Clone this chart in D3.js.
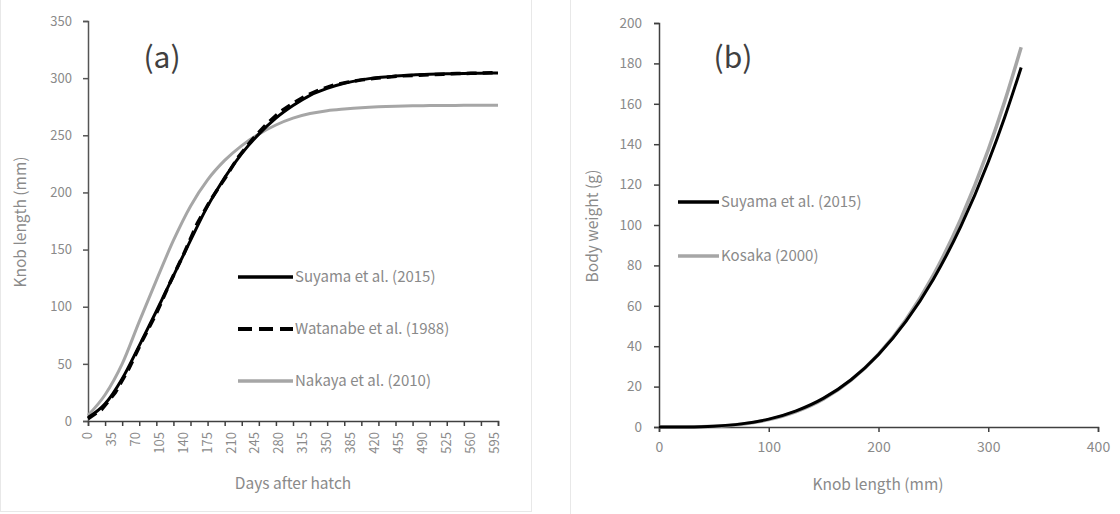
<!DOCTYPE html>
<html><head><meta charset="utf-8">
<script src="https://cdn.jsdelivr.net/npm/d3@7"></script>
<style>
html,body{margin:0;padding:0;background:#fff;}
text{font-family:"Noto Sans CJK JP","Noto Sans",sans-serif;}
</style></head>
<body><svg id="c" width="1120" height="514"></svg>
<script>
// ---- Panel (a) data ----
const daysA = [0,25,50,75,100,125,150,175,200,225,250,275,300,325,350,375,400,425,450,475,500,525,550,575,600];
const suyamaA = [3,15,37,66,96,127,158,188,213,234,251,265,276,285,291,295.5,298.5,300.5,301.8,302.8,303.4,303.8,304.1,304.3,304.5];
const nakayaA = [5,23,50,87,123,158,188,211,228,241,251,259,265,269,271.5,273,274.2,275,275.5,275.8,276,276.1,276.2,276.3,276.3];
const watanabeDays = [0,20,40,60,80,100,120,140,160,180,200,220,240,260,280,300,320,340,360,380,400,420,440,460,480,500,520,540,560,580,600];
const watanabeA = [2,10,25,46,71,94,121,146,173,194,212,231,246,259,270,278,285,290,294,296.5,298.5,300,301,302,302.5,303,303.5,304,304.2,304.5,305];
const xTickMarksA = [0,25,50,75,100,125,150,175,200,225,250,275,300,325,350,375,400,425,450,475,500,525,550,575,600];
const xLabelsA = [0,35,70,105,140,175,210,245,280,315,350,385,420,455,490,525,560,595];
const yTicksA = [0,50,100,150,200,250,300,350];
const seriesNamesA = ["Suyama et al. (2015)","Watanabe et al. (1988)","Nakaya et al. (2010)"];

// ---- Panel (b) data ----
const knobB = [0,25,50,75,100,125,150,175,200,225,250,275,300,315,330];
const suyamaB = [0,0.05,0.42,1.55,3.9,8.0,14.3,23.4,35.9,52.3,73.2,99.3,131.2,153.4,178];
const kosakaB = [0,0.04,0.37,1.41,3.66,7.64,13.9,23.2,36.0,53.1,75.2,103.0,137.2,161.2,188];
const xTicksB = [0,100,200,300,400];
const yTicksB = [0,20,40,60,80,100,120,140,160,180,200];
const seriesNamesB = ["Suyama et al. (2015)","Kosaka (2000)"];

const svg = d3.select("#c");
const labelColor = "#8a8a8a", axisColor = "#404040", gray = "#a6a6a6";

// faint panel frames
svg.append("rect").attr("x",0.5).attr("y",-2).attr("width",531).attr("height",513.5)
  .attr("fill","none").attr("stroke","#e8e8e8");
svg.append("rect").attr("x",570.5).attr("y",-2).attr("width",552).attr("height",520)
  .attr("fill","none").attr("stroke","#e8e8e8");

// ===== Panel (a) =====
const xA = d3.scaleLinear().domain([0,600]).range([88,498]);
const yA = d3.scaleLinear().domain([0,350]).range([421,21]);
const gA = svg.append("g");

const yAxA = gA.append("g").attr("transform","translate(88,0)")
  .call(d3.axisLeft(yA).tickValues(yTicksA).tickSize(5).tickPadding(11));
yAxA.select(".domain").attr("stroke","#555").attr("stroke-width",1.5);
yAxA.selectAll(".tick line").attr("stroke","#555").attr("stroke-width",1.5);
yAxA.selectAll("text").attr("fill",labelColor).attr("font-size",13);

const xAxA = gA.append("g").attr("transform","translate(0,421)")
  .call(d3.axisBottom(xA).tickValues(xTickMarksA).tickSize(5).tickFormat(""));
xAxA.select(".domain").attr("stroke",axisColor).attr("stroke-width",1.5);
xAxA.selectAll(".tick line").attr("stroke",axisColor).attr("stroke-width",1.5);
gA.append("g").selectAll("text").data(xLabelsA).join("text")
  .attr("transform",d=>`translate(${xA(d)+4},432) rotate(-90)`)
  .attr("text-anchor","end").attr("fill",labelColor).attr("font-size",13)
  .text(d=>d);

gA.append("text").attr("x",293).attr("y",489).attr("text-anchor","middle")
  .attr("fill",labelColor).attr("font-size",15.5).text("Days after hatch");
gA.append("text").attr("transform","translate(26,222) rotate(-90)").attr("text-anchor","middle")
  .attr("fill",labelColor).attr("font-size",15.5).text("Knob length (mm)");
gA.append("text").attr("x",162).attr("y",68).attr("text-anchor","middle")
  .attr("fill","#404040").attr("font-size",30).text("(a)");

const lineA = d3.line().x(d=>xA(d[0])).y(d=>yA(d[1])).curve(d3.curveMonotoneX);
gA.append("path").datum(daysA.map((d,i)=>[d,nakayaA[i]])).attr("d",lineA)
  .attr("fill","none").attr("stroke",gray).attr("stroke-width",3);
gA.append("path").datum(daysA.map((d,i)=>[d,suyamaA[i]])).attr("d",lineA)
  .attr("fill","none").attr("stroke","#000").attr("stroke-width",3);
gA.append("path").datum(watanabeDays.map((d,i)=>[d,watanabeA[i]])).attr("d",d3.line().x(d=>xA(d[0])).y(d=>yA(d[1])))
  .attr("fill","none").attr("stroke","#000").attr("stroke-width",3.5).attr("stroke-dasharray","10,6");

const legA = gA.append("g");
const legStylesA = [{c:"#000",w:3.5,dash:null},{c:"#000",w:4,dash:"14,7"},{c:gray,w:3.5,dash:null}];
const legYA = [277,329,381];
seriesNamesA.forEach((n,i)=>{
  legA.append("line").attr("x1",238).attr("x2",293).attr("y1",legYA[i]).attr("y2",legYA[i])
    .attr("stroke",legStylesA[i].c).attr("stroke-width",legStylesA[i].w)
    .attr("stroke-dasharray",legStylesA[i].dash);
  legA.append("text").attr("x",295).attr("y",legYA[i]+5).attr("fill",labelColor)
    .attr("font-size",15).text(n);
});

// ===== Panel (b) =====
const xB = d3.scaleLinear().domain([0,400]).range([659,1098]);
const yB = d3.scaleLinear().domain([0,200]).range([427,23]);
const gB = svg.append("g");

const yAxB = gB.append("g").attr("transform","translate(659,0)")
  .call(d3.axisLeft(yB).tickValues(yTicksB).tickSize(5).tickPadding(12));
yAxB.select(".domain").attr("stroke",axisColor).attr("stroke-width",1.5);
yAxB.selectAll(".tick line").attr("stroke",axisColor).attr("stroke-width",1.5);
yAxB.selectAll("text").attr("fill",labelColor).attr("font-size",13.5);

const xAxB = gB.append("g").attr("transform","translate(0,427)")
  .call(d3.axisBottom(xB).tickValues(xTicksB).tickSize(5).tickPadding(10));
xAxB.select(".domain").attr("stroke",axisColor).attr("stroke-width",1.5);
xAxB.selectAll(".tick line").attr("stroke",axisColor).attr("stroke-width",1.5);
xAxB.selectAll("text").attr("fill",labelColor).attr("font-size",14);

gB.append("text").attr("x",878).attr("y",490).attr("text-anchor","middle")
  .attr("fill",labelColor).attr("font-size",15.5).text("Knob length (mm)");
gB.append("text").attr("transform","translate(598,226) rotate(-90)").attr("text-anchor","middle")
  .attr("fill",labelColor).attr("font-size",15.5).text("Body weight (g)");
gB.append("text").attr("x",733).attr("y",68).attr("text-anchor","middle")
  .attr("fill","#404040").attr("font-size",30).text("(b)");

const lineB = d3.line().x(d=>xB(d[0])).y(d=>yB(d[1])).curve(d3.curveMonotoneX);
gB.append("path").datum(knobB.map((d,i)=>[d,kosakaB[i]])).attr("d",lineB)
  .attr("fill","none").attr("stroke",gray).attr("stroke-width",3.5);
gB.append("path").datum(knobB.map((d,i)=>[d,suyamaB[i]])).attr("d",lineB)
  .attr("fill","none").attr("stroke","#000").attr("stroke-width",3);

const legYB = [202,256];
const legStylesB = [{c:"#000",w:3.5},{c:gray,w:3.5}];
seriesNamesB.forEach((n,i)=>{
  gB.append("line").attr("x1",678).attr("x2",719).attr("y1",legYB[i]).attr("y2",legYB[i])
    .attr("stroke",legStylesB[i].c).attr("stroke-width",legStylesB[i].w);
  gB.append("text").attr("x",721).attr("y",legYB[i]+5).attr("fill",labelColor)
    .attr("font-size",15).text(n);
});
</script></body></html>
